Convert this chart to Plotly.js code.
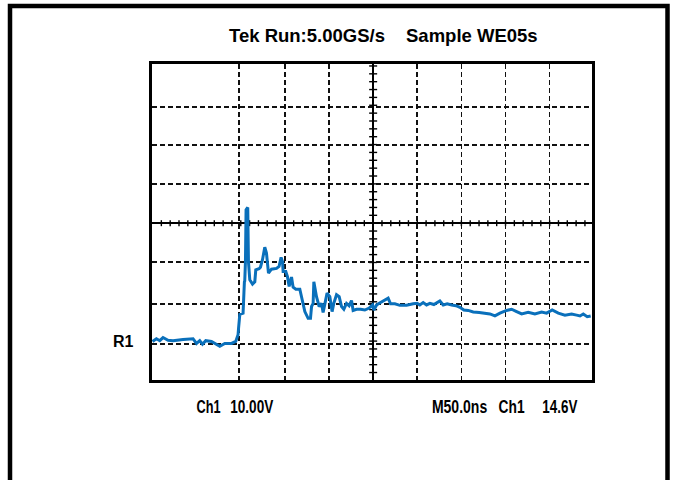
<!DOCTYPE html>
<html>
<head>
<meta charset="utf-8">
<script src="https://cdn.plot.ly/plotly-3.0.1.min.js"></script>
<style>
  html, body { margin: 0; padding: 0; background: #fff; }
  #chart { width: 673px; height: 480px; }
</style>
</head>
<body>
<div id="chart"></div>
<script>
// Time in ns (50 ns/div, screen centre = 0), voltage in V (10 V/div, screen centre = 0)
const timeNs = [-250.1,-245.6,-241.8,-238.1,-232.4,-226.8,-215.4,-204.1,-200.2,-196.5,-193.4,-189.7,-183.2,-177.6,-173.8,-168.1,-160.5,-155.7,-153.1,-152.5,-152.0,-151.1,-147.4,-146.6,-146.4,-145.9,-145.5,-144.7,-144.3,-144.0,-142.1,-141.7,-141.3,-139.8,-136.7,-134.1,-133.0,-129.3,-127.7,-125.4,-122.8,-120.9,-118.6,-115.2,-109.5,-106.6,-104.3,-102.7,-102.0,-99.0,-97.1,-95.2,-92.5,-90.7,-87.6,-83.1,-80.5,-77.4,-73.7,-71.0,-69.8,-68.0,-67.2,-64.2,-61.2,-58.5,-56.7,-53.6,-52.2,-49.1,-46.5,-44.6,-41.5,-38.5,-35.8,-33.2,-30.2,-27.2,-24.5,-22.7,-18.8,-14.3,-9.4,-4.5,-0.7,0.8,3.9,8.4,12.1,17.0,19.7,24.6,30.3,37.9,45.4,49.9,52.9,56.7,60.5,64.3,68.8,72.6,75.6,79.4,83.9,88.9,93.8,98.3,102.8,107.7,113.4,120.2,126.6,132.3,138.0,143.7,151.2,156.9,162.6,168.3,175.7,183.3,190.9,196.6,202.9,209.8,217.3,224.9,230.6,234.4,238.1,242.6,246.5];
const voltsV = [-30.1,-29.4,-29.9,-29.1,-29.8,-29.9,-29.6,-29.4,-30.6,-29.9,-30.8,-29.9,-30.1,-30.8,-31.3,-30.6,-30.6,-30.1,-28.4,-26.7,-24.4,-23.2,-22.9,-20.4,-17.6,-15.0,-14.7,-9.8,1.3,3.4,4.0,-1.3,-9.8,-14.4,-15.5,-14.9,-11.9,-11.6,-11.2,-9.3,-6.1,-7.6,-12.7,-11.7,-11.5,-11.0,-8.7,-9.8,-12.3,-12.3,-13.6,-16.1,-13.7,-16.3,-16.8,-16.8,-19.5,-22.5,-24.2,-24.2,-21.2,-20.4,-14.9,-18.7,-21.2,-20.4,-22.7,-19.5,-17.8,-18.7,-22.5,-20.4,-18.2,-18.7,-21.2,-21.9,-20.4,-21.0,-19.7,-22.2,-21.9,-21.9,-22.1,-21.6,-20.8,-22.1,-20.8,-20.2,-19.7,-19.1,-20.5,-20.5,-20.9,-20.9,-20.5,-20.4,-20.8,-20.2,-20.8,-20.4,-20.7,-20.2,-19.8,-20.8,-20.5,-20.8,-21.0,-21.4,-22.1,-22.2,-22.6,-22.7,-22.9,-23.1,-23.6,-22.9,-22.2,-21.9,-22.5,-23.1,-22.7,-23.1,-22.6,-22.9,-22.1,-22.9,-23.4,-23.1,-23.4,-23.6,-23.1,-23.8,-23.6];

// Graticule lines as they appear on the screen (the -200 ns line is absent there)
const xGridNs = [-152,-100,-50,50,100,150,200];
const yGridV = [-30.7,-20.5,-9.9,10,19.9,29.6];

// Texts
const titleParts = ['Tek Run:5.00GS/s', 'Sample WE05s'];
const refLabel = 'R1';
const bottomLeft = ['Ch1', '10.00V'];
const bottomRight = ['M50.0ns', 'Ch1', '14.6V'];

const traceColor = '#0a70bb';
const L = 152, R = 592, T = 64, B = 380;
const px2paperX = p => (p - L) / (R - L);
const px2paperY = p => (B - p) / (B - T);

const shapes = [];
// minor ticks on the centre horizontal line (every 0.2 div = 10 ns)
for (let t = -240; t <= 240; t += 10) {
  shapes.push({type:'line', xref:'x', yref:'y', ysizemode:'pixel', yanchor:0,
    x0:t, x1:t, y0:-3, y1:3, line:{color:'#000', width:1.4}, layer:'below'});
}
// minor ticks on the centre vertical line (every 0.2 div = 2 V)
for (let v = -38; v <= 40; v += 2) {
  shapes.push({type:'line', xref:'x', yref:'y', xsizemode:'pixel', xanchor:0,
    x0:-4, x1:4, y0:v, y1:v, line:{color:'#000', width:1.4}, layer:'below'});
}
// outer frame of the screenshot
shapes.push({type:'rect', xref:'paper', yref:'paper',
  x0:px2paperX(10), x1:px2paperX(667.5), y0:px2paperY(520), y1:px2paperY(6),
  line:{color:'#000', width:4.5}, fillcolor:'rgba(0,0,0,0)'});

const boldFont = {family:'Liberation Sans, Arial, sans-serif', size:18.5, color:'#000'};
const condFont = {family:'Liberation Sans, Arial, sans-serif', size:17.5, color:'#000'};

const ann = (text, xpx, ypx, anchor, font) => ({
  text:'<b>' + text + '</b>', xref:'paper', yref:'paper',
  x:px2paperX(xpx), y:px2paperY(ypx), xanchor:anchor, yanchor:'middle',
  showarrow:false, font:font, borderpad:0
});

// condensed bottom labels: [text, centre px, target width px]
const condensed = [
  [bottomLeft[0], 208, 24],
  [bottomLeft[1], 252.2, 43],
  [bottomRight[0], 459.3, 55.3],
  [bottomRight[1], 511, 26],
  [bottomRight[2], 560.2, 35]
];

const annotations = [
  ann(titleParts[0], 227.5, 35.5, 'left', boldFont),
  ann(titleParts[1], 405, 35.5, 'left', boldFont),
  ann(refLabel, 135, 341, 'right', Object.assign({}, boldFont, {size:16}))
].concat(condensed.map(c => ann(c[0], c[1], 407, 'center', condFont)));

const axisCommon = {
  showline:true, mirror:true, linecolor:'#000', linewidth:2.6,
  showgrid:true, gridcolor:'#111', gridwidth:1.6, griddash:'5px,3px',
  zeroline:true, zerolinecolor:'#000', zerolinewidth:2.3,
  showticklabels:false, ticks:'', tickmode:'array', fixedrange:true
};

const layout = {
  width:673, height:480,
  margin:{l:L, r:673-R, t:T, b:480-B, pad:0},
  paper_bgcolor:'#fff', plot_bgcolor:'#fff',
  showlegend:false,
  xaxis:Object.assign({}, axisCommon, {range:[-250.6, 248.0], tickvals:xGridNs}),
  yaxis:Object.assign({}, axisCommon, {range:[-39.9, 40.5], tickvals:yGridV}),
  shapes:shapes,
  annotations:annotations
};

const data = [{
  x:timeNs, y:voltsV, type:'scatter', mode:'lines',
  line:{color:traceColor, width:3, shape:'linear'},
  hoverinfo:'skip', cliponaxis:true
}];

Plotly.newPlot('chart', data, layout, {staticPlot:true, displayModeBar:false}).then(gd => {
  // squeeze the bottom readout labels to the narrow face used on the scope screen
  const groups = gd.querySelectorAll('.annotation');
  const offset = annotations.length - condensed.length;
  condensed.forEach((c, i) => {
    const g = groups[offset + i];
    if (!g) return;
    const txt = g.querySelector('text.annotation-text');
    if (!txt) return;
    txt.setAttribute('textLength', c[2]);
    txt.setAttribute('lengthAdjust', 'spacingAndGlyphs');
  });
});
</script>
</body>
</html>
